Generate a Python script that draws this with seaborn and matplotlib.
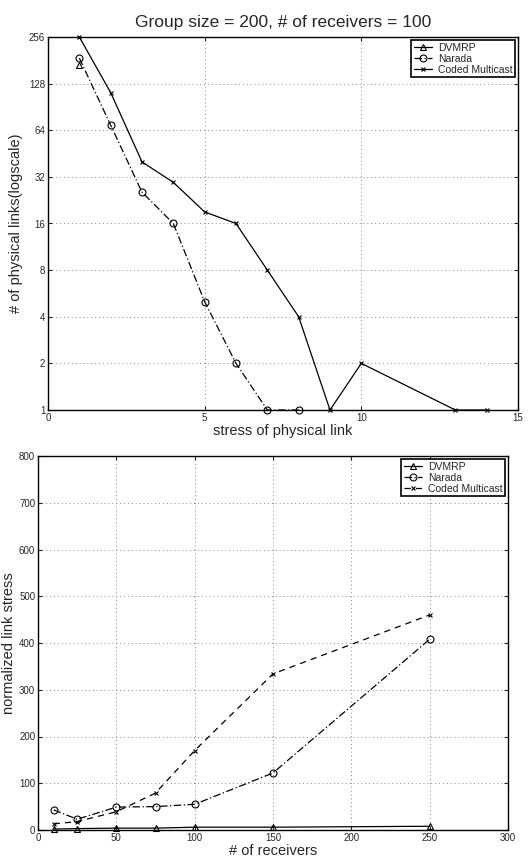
import matplotlib
matplotlib.use("Agg")
import matplotlib.pyplot as plt
import seaborn as sns
import pandas as pd
from matplotlib.ticker import FixedLocator, FixedFormatter, NullLocator

# ---- data: top panel (stress distribution) ----
stress_coded = [1, 2, 3, 4, 5, 6, 7, 8, 9, 10, 13, 14]
links_coded = [256, 112, 40, 29.5, 19, 16, 8, 4, 1, 2, 1, 1]
stress_narada = [1, 2, 3, 4, 5, 6, 7, 8]
links_narada = [187, 69, 25.5, 16, 5, 2, 1, 1]
stress_dvmrp = [1]
links_dvmrp = [168]

# ---- data: bottom panel (normalized link stress) ----
receivers = [10, 25, 50, 75, 100, 150, 250]
nls_dvmrp = [2, 3, 4, 4, 6, 6, 8]
nls_narada = [43, 23, 49, 50, 55, 122, 408]
nls_coded = [13, 18, 39, 79, 170, 334, 460]

top_xticks = [0, 5, 10, 15]
top_yticks = [1, 2, 4, 8, 16, 32, 64, 128, 256]
bot_xticks = [0, 50, 100, 150, 200, 250, 300]
bot_yticks = [0, 100, 200, 300, 400, 500, 600, 700, 800]

sns.set_style("white")
plt.rcParams['font.family'] = ['Liberation Sans', 'DejaVu Sans']

fig = plt.figure(figsize=(5.3, 8.67), dpi=100)
ax1 = fig.add_axes([48/530, 1-410/867, 470/530, 373/867])
ax2 = fig.add_axes([38/530, 1-830/867, 470/530, 374/867])

lw = 0.9
def draw(ax, x, y, label, marker, ls, ms):
    df = pd.DataFrame({"x": x, "y": y})
    sns.lineplot(data=df, x="x", y="y", ax=ax, color="black", linewidth=lw,
                 linestyle=ls, marker=marker, markersize=ms,
                 markerfacecolor="none", markeredgecolor="black",
                 markeredgewidth=0.8, label=label, sort=False, clip_on=False)

# top
draw(ax1, stress_dvmrp, links_dvmrp, "DVMRP", "^", "-", 5)
draw(ax1, stress_narada, links_narada, "Narada", "o", (0, (6, 2, 1, 2)), 5)
draw(ax1, stress_coded, links_coded, "Coded Multicast", "x", "-", 3.5)
ax1.set_yscale("log", base=2)
ax1.set_xlim(0, 15)
ax1.set_ylim(1, 256)
ax1.yaxis.set_major_locator(FixedLocator(top_yticks))
ax1.yaxis.set_major_formatter(FixedFormatter([str(v) for v in top_yticks]))
ax1.yaxis.set_minor_locator(NullLocator())
ax1.set_xticks(top_xticks)
ax1.set_title("Group size = 200, # of receivers = 100", fontsize=12.5, pad=7)
ax1.set_xlabel("stress of physical link", fontsize=10.5, labelpad=1)
ax1.set_ylabel("# of physical links(logscale)", fontsize=10.5, labelpad=4)

# bottom
draw(ax2, receivers, nls_dvmrp, "DVMRP", "^", "-", 5)
draw(ax2, receivers, nls_narada, "Narada", "o", (0, (6, 2, 1, 2)), 5)
draw(ax2, receivers, nls_coded, "Coded Multicast", "x", (0, (5, 4)), 3.5)
ax2.set_xlim(0, 300)
ax2.set_ylim(0, 800)
ax2.set_xticks(bot_xticks)
ax2.set_yticks(bot_yticks)
ax2.set_xlabel("# of receivers", fontsize=10.5, labelpad=1)
ax2.set_ylabel("normalized link stress", fontsize=10.5, labelpad=2)

for ax in (ax1, ax2):
    ax.grid(True, linestyle=(0, (1, 3)), color="#888888", linewidth=0.7)
    for s in ax.spines.values():
        s.set_color("black")
        s.set_linewidth(1.0)
    ax.tick_params(direction="in", length=3, width=0.8, labelsize=7,
                   top=True, right=True, bottom=True, left=True, pad=2)
    leg = ax.legend(loc="upper right", fontsize=7.5, frameon=True, fancybox=False,
                    edgecolor="black", framealpha=1, handlelength=1.8,
                    borderpad=0.25, labelspacing=0.1, handletextpad=0.5,
                    borderaxespad=0.3)
    leg.get_frame().set_linewidth(1.2)

fig.savefig("out.png", dpi=100)
